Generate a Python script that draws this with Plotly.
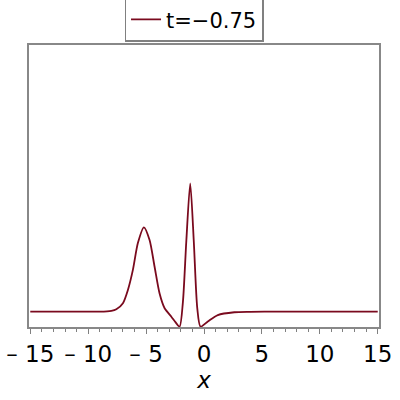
import plotly.graph_objects as go

# data
x_vals = [-15, -10, -9, -8, -7.57, -7.0, -6.57, -6.14, -5.71, -5.19, -4.70, -4.27, -3.84, -3.40,
          -2.82, -2.54, -2.11, -1.82, -1.53, -1.19, -0.88, -0.58, -0.30, 0.33, 1.19, 2.62, 4, 6, 15]
y_vals = [1.0, 1.0, 1.0, 1.03, 1.085, 1.30, 1.77, 2.48, 3.43, 3.99, 3.54, 2.60, 1.65, 1.12,
          0.82, 0.67, 0.47, 1.35, 3.48, 5.55, 3.48, 1.12, 0.47, 0.65, 0.88, 0.98, 0.995, 1.0, 1.0]
series_name = "t=−0.75"
tick_vals = [-15, -10, -5, 0, 5, 10, 15]
tick_text = ["– 15", "– 10", "– 5", "0", "5", "10", "15"]

fig = go.Figure()
fig.add_trace(go.Scatter(x=x_vals, y=y_vals, mode="lines", name=series_name,
                         line=dict(color="#7a0a1e", width=1.8, shape="spline", smoothing=0.7),
                         showlegend=True))

fig.update_layout(
    width=400, height=400,
    margin=dict(l=29, r=21, t=45, b=73),
    paper_bgcolor="white", plot_bgcolor="white",
    font=dict(family="DejaVu Sans", color="black"),
    showlegend=True,
    legend=dict(orientation="h", x=0.4715, xanchor="center",
                yref="container", y=0.9505, yanchor="middle",
                bordercolor="#808080", borderwidth=1.5, font=dict(size=21, family="DejaVu Sans"),
                bgcolor="white"),
    xaxis=dict(range=[-15.11, 15.11], tickvals=tick_vals, ticktext=tick_text, automargin=False,
               ticks="outside", ticklen=5, tickwidth=1, tickcolor="#808080",
               minor=dict(dtick=1, ticks="outside", ticklen=3, tickcolor="#808080", tickwidth=1),
               showline=True, linecolor="#888888", linewidth=2, mirror=True,
               showgrid=False, zeroline=False,
               tickfont=dict(size=23, family="DejaVu Sans"),
               title=dict(text="<i>x</i>", font=dict(size=23, family="DejaVu Sans"), standoff=6)),
    yaxis=dict(range=[0.457, 10.45], showticklabels=False, ticks="", automargin=False,
               showline=True, linecolor="#888888", linewidth=2, mirror=True,
               showgrid=False, zeroline=False),
)

fig.write_html("out.html", config={"displayModeBar": False},
               post_script="document.body.style.margin='0';")
